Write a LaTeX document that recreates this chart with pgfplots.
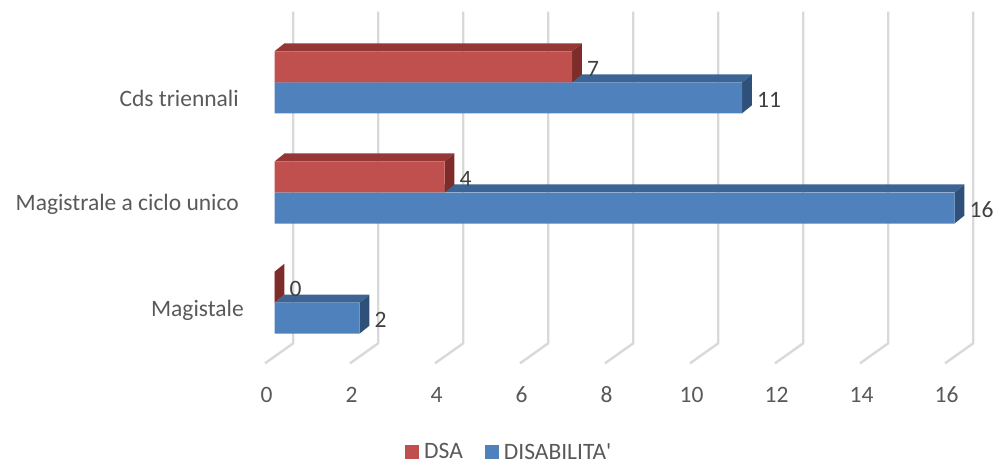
\documentclass[border=0pt]{standalone}
\usepackage{fontspec}
\setmainfont{Carlito}
\usepackage{pgfplots}
\pgfplotsset{compat=1.18}
\definecolor{redF}{HTML}{C0504D}
\definecolor{redT}{HTML}{953735}
\definecolor{redS}{HTML}{7E2C2A}
\definecolor{bluF}{HTML}{4F81BD}
\definecolor{bluT}{HTML}{3C6494}
\definecolor{bluS}{HTML}{2F5079}
\definecolor{gridc}{HTML}{D9D9D9}
\definecolor{txt}{HTML}{595959}
\definecolor{lab}{HTML}{404040}
\newcommand\cf{\fontsize{23.5}{28}\selectfont}
\begin{document}
\begin{tikzpicture}
\begin{axis}[
  x=42.5pt, y=110.2pt,
  xmin=-0.2235, xmax=16.442, ymin=-0.55, ymax=2.641,
  clip=false,
  axis line style={draw=none}, major tick length=0pt,
  xtick={0,2,...,16},
  ytick={-0.127,0.841,1.779},
  yticklabels={Magistale, Magistrale a ciclo unico\kern5pt, Cds triennali\kern5pt},
  /pgf/number format/assume math mode=true,
  tick label style={font=\cf, text=txt, inner sep=0pt},
  xticklabel style={anchor=base, yshift=-38.7pt, xshift=-8pt},
  yticklabel style={anchor=base east, xshift=-21pt},
  legend columns=2,
  legend style={at={(axis cs:3.071,-1.3548)}, anchor=west, draw=none, fill=none,
    inner sep=0pt, font=\cf, text=txt, cells={anchor=center}, nodes={inner sep=0pt},
    /tikz/every odd column/.append style={column sep=5pt},
    /tikz/every even column/.append style={column sep=22pt}},
  legend image code/.code={\fill[#1] (0pt,-7pt) rectangle (14pt,7pt);},
  lbl/.style={nodes near coords, nodes near coords style={font=\cf, text=lab, anchor=west, inner sep=0pt, xshift=15pt, yshift=#1}},
]
\addlegendimage{fill=redF, draw=none}
\addlegendentry{DSA}
\addlegendimage{fill=bluF, draw=none}
\addlegendentry{DISABILITA\textquotesingle}

% grid (back wall lines and floor diagonals)
\pgfplotsinvokeforeach{0,2,...,16}{
  \draw[gridc, line width=2.4pt] (axis cs:{#1+0.442},2.641) -- (axis cs:{#1+0.442},-0.368) -- (axis cs:{#1-0.2235},-0.55);
}

% DISABILITA' : top faces
\addplot[fill=bluT, draw=none, forget plot] coordinates {(0,2) (0.235,2.0726) (11.235,2.0726) (11,2)} --cycle;
\addplot[fill=bluT, draw=none, forget plot] coordinates {(0,1) (0.235,1.0726) (16.235,1.0726) (16,1)} --cycle;
\addplot[fill=bluT, draw=none, forget plot] coordinates {(0,0) (0.235,0.0726) (2.235,0.0726) (2,0)} --cycle;
% side faces
\addplot[fill=bluS, draw=none, forget plot] coordinates {(11,1.7187) (11.235,1.7913) (11.235,2.0726) (11,2)} --cycle;
\addplot[fill=bluS, draw=none, forget plot] coordinates {(16,0.7187) (16.235,0.7913) (16.235,1.0726) (16,1)} --cycle;
\addplot[fill=bluS, draw=none, forget plot] coordinates {(2,-0.2813) (2.235,-0.2087) (2.235,0.0726) (2,0)} --cycle;
% front faces
\addplot[xbar, bar width=0.2813, bar shift=-0.1407, fill=bluF, draw=none, forget plot, lbl=-17.5pt]
  coordinates {(2,0) (16,1) (11,2)};

% DSA : top faces
\addplot[fill=redT, draw=none, forget plot] coordinates {(0,2.2813) (0.235,2.3539) (7.235,2.3539) (7,2.2813)} --cycle;
\addplot[fill=redT, draw=none, forget plot] coordinates {(0,1.2813) (0.235,1.3539) (4.235,1.3539) (4,1.2813)} --cycle;
% side faces
\addplot[fill=redS, draw=none, forget plot] coordinates {(7,2) (7.235,2.0726) (7.235,2.3539) (7,2.2813)} --cycle;
\addplot[fill=redS, draw=none, forget plot] coordinates {(4,1) (4.235,1.0726) (4.235,1.3539) (4,1.2813)} --cycle;
\addplot[fill=redS, draw=none, forget plot] coordinates {(0,0) (0.235,0.0726) (0.235,0.3539) (0,0.2813)} --cycle;
% front faces
\addplot[xbar, bar width=0.2813, bar shift=0.1407, fill=redF, draw=none, forget plot, lbl=13.5pt]
  coordinates {(0,0) (4,1) (7,2)};

\coordinate (bbTL) at (axis cs:-6.459,2.7468);
\coordinate (bbBR) at (axis cs:17.0,-1.4546);
\end{axis}
\pgfresetboundingbox
\path[use as bounding box] (bbTL) rectangle (bbBR);
\end{tikzpicture}
\end{document}
